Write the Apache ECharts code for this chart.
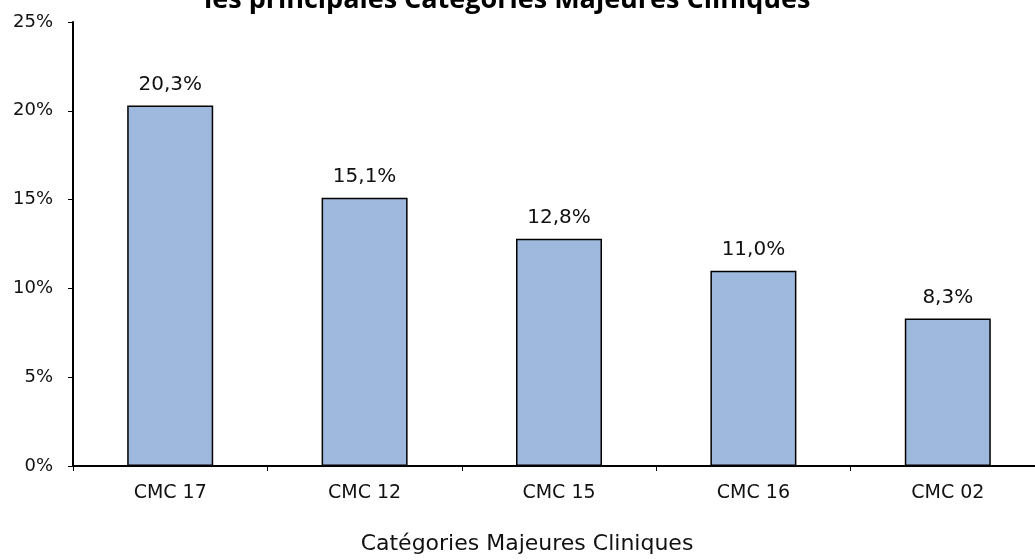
<!DOCTYPE html>
<html>
<head>
<meta charset="utf-8">
<script src="https://cdn.jsdelivr.net/npm/echarts@6/dist/echarts.min.js"></script>
<style>
  html, body { margin: 0; padding: 0; background: #fff; overflow: hidden; }
  #chart { width: 1045px; height: 560px; }
</style>
</head>
<body>
<div id="chart"></div>
<script>
var categories = ['CMC 17', 'CMC 12', 'CMC 15', 'CMC 16', 'CMC 02'];
var values = [20.3, 15.1, 12.8, 11.0, 8.3];
var yTicks = [0, 5, 10, 15, 20, 25];

var chart = echarts.init(document.getElementById('chart'));
var font = '"DejaVu Sans", sans-serif';

// the plot area runs slightly past the right edge of the window, as in the original
var option = {
    animation: false,
    title: {
        text: 'les principales Catégories Majeures Cliniques',
        left: 199,
        top: -18,
        textStyle: { fontFamily: '"Open Sans", sans-serif', fontWeight: 'bold', fontSize: 27, color: '#000' }
    },
    grid: { left: 73, right: 0, top: 22, bottom: 93, containLabel: false },
    xAxis: {
        type: 'category',
        data: categories,
        name: 'Catégories Majeures Cliniques',
        nameLocation: 'middle',
        nameGap: 67,
        // name is centred on the visible part of the window, not on the whole plot
        nameTextStyle: { fontFamily: font, fontSize: 22, color: '#111', padding: [0, 64, 0, 0] },
        axisLine: { lineStyle: { color: '#000', width: 2 } },
        axisTick: { show: true, length: 5, lineStyle: { color: '#000', width: 1 } },
        axisLabel: { fontFamily: font, fontSize: 19, color: '#111', margin: 18 }
    },
    yAxis: {
        type: 'value',
        min: yTicks[0],
        max: yTicks[yTicks.length - 1],
        interval: 5,
        splitLine: { show: false },
        axisLine: { show: true, lineStyle: { color: '#000', width: 2 } },
        axisTick: { show: true, length: 5, lineStyle: { color: '#000', width: 1 } },
        axisLabel: {
            fontFamily: font, fontSize: 18, color: '#111', margin: 20,
            formatter: function (v) { return v + '%'; }
        }
    },
    series: [{
        type: 'bar',
        data: values,
        barWidth: 86,
        itemStyle: { color: '#9fb9de', borderColor: '#000', borderWidth: 1.5 },
        label: {
            show: true,
            position: 'top',
            distance: 11,
            fontFamily: font,
            fontSize: 20,
            color: '#111',
            formatter: function (p) { return p.value.toFixed(1).replace('.', ',') + '%'; }
        }
    }]
};

chart.setOption(option);
</script>
</body>
</html>
